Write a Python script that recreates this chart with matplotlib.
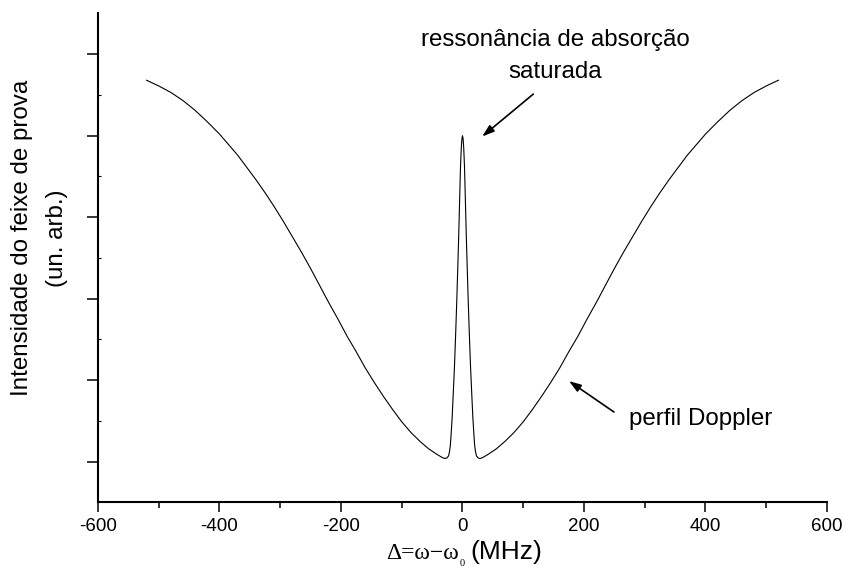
import matplotlib
matplotlib.use('Agg')
import matplotlib.pyplot as plt
import numpy as np

plt.rcParams['font.family'] = ['Liberation Sans', 'DejaVu Sans']
plt.rcParams['axes.unicode_minus'] = False

# probe transmission, right half of the symmetric profile
# detuning in MHz, intensity in arbitrary units
detuning_half = [0, 1, 2, 3.3, 4.7, 6.1, 7.7, 9.4, 11.3, 13.2, 15.5, 17, 18.6,
                 20, 21.5, 23, 26, 29, 33, 42, 56, 70, 85, 100, 115, 130, 145,
                 160, 175, 190, 205, 220, 235, 250, 265, 280, 295, 310, 325,
                 340, 355, 370, 385, 400, 420, 440, 460, 480, 500, 520]
intensity_half = [4.00, 3.96, 3.85, 3.62, 3.22, 2.81, 2.40, 1.98, 1.56, 1.17,
                  0.79, 0.55, 0.35, 0.20, 0.12, 0.07, 0.045, 0.04, 0.05, 0.09,
                  0.16, 0.25, 0.36, 0.49, 0.64, 0.80, 0.97, 1.15, 1.35, 1.54,
                  1.75, 1.95, 2.16, 2.37, 2.57, 2.76, 2.95, 3.13, 3.30, 3.46,
                  3.61, 3.76, 3.89, 4.02, 4.17, 4.31, 4.43, 4.53, 4.61, 4.68]

x_ticks = [-600, -400, -200, 0, 200, 400, 600]
x_minor = [-500, -300, -100, 100, 300, 500]
y_ticks = [0, 1, 2, 3, 4, 5]
y_minor = [0.5, 1.5, 2.5, 3.5, 4.5]

# mirror the half profile around zero detuning
detuning = np.concatenate([-np.array(detuning_half[:0:-1]), detuning_half])
intensity = np.concatenate([intensity_half[:0:-1], intensity_half])

W, H = 845, 571
fig = plt.figure(figsize=(W / 100, H / 100), dpi=100)
ax = fig.add_axes([98 / W, 69 / H, 729 / W, 489 / H])

ax.plot(detuning, intensity, color='black', lw=0.8)

ax.set_xlim(-600, 600)
ax.set_ylim(-0.494, 5.505)
ax.spines['top'].set_visible(False)
ax.spines['right'].set_visible(False)
ax.spines['left'].set_linewidth(1.5)
ax.spines['bottom'].set_linewidth(1.5)

ax.set_xticks(x_ticks)
ax.set_xticks(x_minor, minor=True)
ax.set_yticks(y_ticks)
ax.set_yticks(y_minor, minor=True)
ax.set_yticklabels([])
ax.tick_params(axis='x', which='major', direction='out', length=7.5, width=1.1,
               labelsize=13.5, pad=4)
ax.tick_params(axis='x', which='minor', direction='out', length=4.5, width=1.1)
ax.tick_params(axis='y', which='major', direction='out', length=8, width=1.1)
ax.tick_params(axis='y', which='minor', direction='in', length=2, width=0.8)

arrow = dict(arrowstyle='-|>,head_length=0.6,head_width=0.2', color='black',
             lw=1.2, mutation_scale=12, shrinkA=0, shrinkB=0)
ax.annotate('', xy=(32.4, 3.99), xytext=(116.5, 4.51), arrowprops=arrow)
ax.annotate('', xy=(175.2, 0.99), xytext=(249.3, 0.61), arrowprops=arrow)

ax.text(153, 5.10, 'ressonância de absorção', fontsize=17.4, ha='center',
        va='baseline')
ax.text(153, 4.71, 'saturada', fontsize=17.4, ha='center', va='baseline')
ax.text(273.6, 0.45, 'perfil Doppler', fontsize=17.4, ha='left', va='baseline')

# y label, two centred lines
fig.text(22 / W, 1 - 238 / H, 'Intensidade do feixe de prova', rotation=90,
         fontsize=17.4, ha='center', va='center')
fig.text(57 / W, 1 - 238 / H, '(un. arb.)', rotation=90,
         fontsize=17.4, ha='center', va='center')

# x label: greek part in a serif face, unit in sans
fig.text(458.5 / W, 1 - 559 / H, 'Δ=ω−ω', family='Liberation Serif',
         fontsize=17, ha='right', va='baseline')
fig.text(459.5 / W, 1 - 566 / H, '0', family='Liberation Serif',
         fontsize=7.5, ha='left', va='baseline')
fig.text(470 / W, 1 - 559 / H, '(MHz)', fontsize=19, ha='left', va='baseline')

fig.savefig('out.png', dpi=100)
